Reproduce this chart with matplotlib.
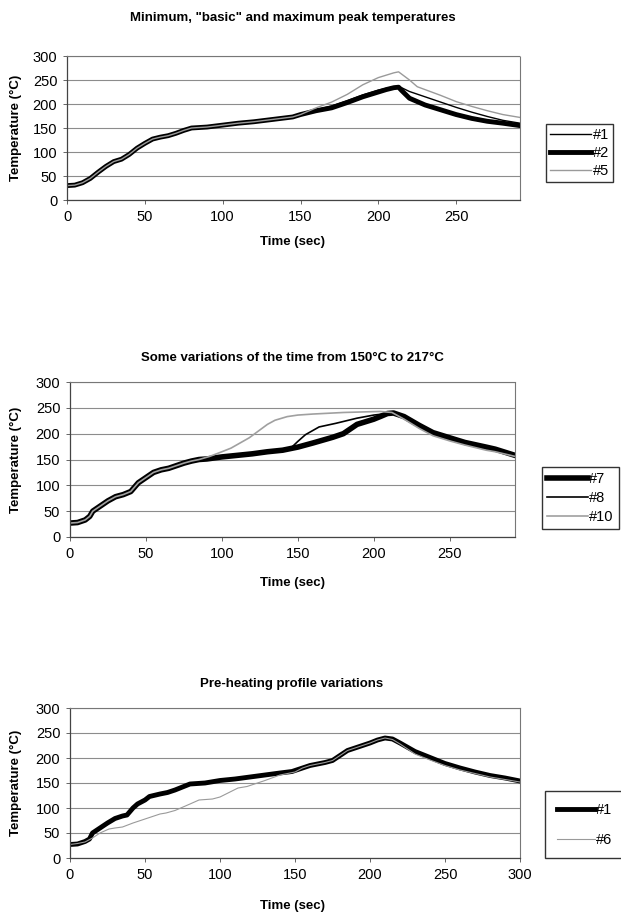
import matplotlib
matplotlib.use("Agg")
import matplotlib.pyplot as plt

plt.rcParams['font.family'] = ['Liberation Sans', 'DejaVu Sans']

# --- chart 1: Minimum, "basic" and maximum peak temperatures ---
t_base = [0, 5, 10, 15, 20, 25, 30, 35, 40, 45, 50, 55, 60, 65, 70, 75, 80, 90, 100, 110, 120, 130, 140, 145, 150]
T_base = [30, 31, 36, 45, 58, 70, 80, 85, 95, 108, 118, 127, 131, 134, 139, 145, 150, 152, 156, 160, 163, 167, 171, 173, 178]

t1_tail = [160, 170, 180, 190, 200, 210, 213, 220, 230, 240, 250, 260, 270, 280, 291]
T1_tail = [188, 196, 207, 219, 229, 236, 237, 226, 215, 204, 193, 183, 174, 166, 160]

t2_tail = [160, 170, 180, 190, 200, 205, 210, 213, 215, 220, 230, 240, 250, 260, 270, 280, 291]
T2_tail = [186, 192, 203, 215, 225, 230, 234, 235, 228, 212, 198, 188, 178, 170, 164, 160, 155]

t5_tail = [160, 170, 180, 190, 200, 210, 213, 220, 225, 230, 240, 250, 260, 270, 280, 291]
T5_tail = [192, 204, 220, 240, 255, 265, 267, 250, 236, 230, 218, 205, 195, 186, 178, 172]

# --- chart 2: Some variations of the time from 150°C to 217°C ---
t_start = [0, 5, 10, 13, 15, 20, 25, 30, 35, 40, 45, 50, 55, 60, 65, 70, 75, 80, 85]
T_start = [27, 28, 33, 40, 50, 60, 70, 78, 82, 88, 105, 115, 125, 130, 133, 138, 143, 147, 150]

t7_tail = [90, 100, 110, 120, 130, 140, 145, 150, 160, 173, 180, 189, 200, 205, 209, 213, 220, 230, 239, 250, 260, 274, 280, 293]
T7_tail = [151, 155, 158, 161, 165, 168, 171, 174, 182, 193, 200, 218, 228, 234, 239, 240, 233, 216, 202, 192, 183, 174, 170, 158]

t8_tail = [90, 100, 110, 120, 130, 140, 145, 150, 155, 164, 175, 189, 200, 209, 213, 220, 230, 239, 250, 260, 274, 280, 293]
T8_tail = [151, 155, 158, 161, 165, 168, 171, 185, 198, 213, 220, 230, 236, 239, 240, 232, 214, 200, 190, 181, 172, 168, 157]

t10_tail = [92, 100, 106, 112, 118, 124, 130, 135, 143, 150, 160, 180, 204, 212, 220, 230, 239, 250, 260, 274, 280, 293]
T10_tail = [156, 165, 172, 182, 192, 205, 218, 226, 233, 236, 238, 241, 243, 241, 228, 210, 196, 186, 178, 168, 165, 156]

# --- chart 3: Pre-heating profile variations ---
t_p1 = [0, 5, 10, 13, 15, 20, 25, 30, 35, 38, 42, 45, 50, 53, 60, 65, 70, 75, 80, 90, 100, 110, 120, 130, 140, 148,
        155, 160, 170, 175, 180, 185, 190, 200, 205, 210, 215, 220, 230, 240, 250, 260, 270, 280, 290, 300]
T_p1 = [27, 28, 33, 38, 50, 60, 70, 79, 84, 86, 100, 108, 116, 123, 128, 131, 136, 142, 148, 150, 155, 158, 162, 166, 170, 173,
        180, 185, 191, 195, 205, 215, 220, 230, 236, 240, 238, 230, 213, 201, 189, 180, 172, 165, 160, 154]

t_p6 = [0, 5, 10, 15, 20, 26, 30, 35, 42, 50, 60, 64, 70, 80, 86, 95, 100, 112, 118, 125, 130, 140, 150,
        155, 160, 170, 175, 180, 185, 190, 200, 205, 210, 215, 220, 230, 240, 250, 260, 270, 280, 290, 300]
T_p6 = [27, 29, 32, 40, 50, 58, 60, 62, 70, 78, 88, 90, 95, 108, 116, 118, 122, 140, 143, 150, 155, 166, 172,
        180, 185, 191, 195, 205, 215, 220, 230, 236, 240, 237, 228, 208, 196, 185, 176, 169, 162, 157, 152]

W, H = 621, 915
fig = plt.figure(figsize=(W / 100, H / 100), dpi=100)


def px_axes(left, top, right, bottom):
    return fig.add_axes([left / W, 1 - bottom / H, (right - left) / W, (bottom - top) / H])


def style(ax, xmax):
    ax.set_ylim(0, 300)
    ax.set_xticks(range(0, 301, 50))
    ax.set_yticks(range(0, 301, 50))
    ax.set_xlim(0, xmax)
    ax.grid(axis='y', color='#8c8c8c', lw=0.8)
    ax.set_axisbelow(True)
    for s in ['top', 'right']:
        ax.spines[s].set_color('#777777')
        ax.spines[s].set_linestyle((0, (1, 1)))
        ax.spines[s].set_linewidth(0.8)
    for s in ['left', 'bottom']:
        ax.spines[s].set_color('#444444')
        ax.spines[s].set_linewidth(0.9)
    ax.tick_params(direction='out', length=3, width=0.7, color='#666666', labelsize=10.5, pad=4)


def texts(title, title_y, xlabel_y, ax_center):
    fig.text(ax_center / W, 1 - title_y / H, title, ha='center', va='center', fontsize=9.5, fontweight='bold')
    fig.text(ax_center / W, 1 - xlabel_y / H, 'Time (sec)', ha='center', va='center', fontsize=9.5, fontweight='bold')


def legend(ax, x, y, spacing, pad, hl):
    fig.legend(handles=ax.get_lines(), loc='upper left', bbox_to_anchor=(x / W, 1 - y / H),
               borderaxespad=0, fontsize=10.5, handlelength=hl, handletextpad=0.1,
               labelspacing=spacing, borderpad=pad, frameon=True, fancybox=False,
               edgecolor='#333333', framealpha=1)


# chart 1
ax1 = px_axes(67, 56, 520, 200)
style(ax1, 291)
ax1.plot(t_base + t1_tail, T_base + T1_tail, color='black', lw=1.0, label='#1')
ax1.plot(t_base + t2_tail, T_base + T2_tail, color='black', lw=3.5, label='#2')
ax1.plot(t_base + t5_tail, T_base + T5_tail, color='#9a9a9a', lw=1.0, label='#5')
ax1.set_ylabel('Temperature (°C)', fontsize=9.5, fontweight='bold')
ax1.yaxis.set_label_coords(-45 / 453, 0.5)
texts('Minimum, "basic" and maximum peak temperatures', 18, 242, 293)
legend(ax1, 546, 124, 0.25, 0.3, 2.8)

# chart 2
ax2 = px_axes(70, 382, 515, 537)
style(ax2, 293)
ax2.plot(t_start + t7_tail, T_start + T7_tail, color='black', lw=4.0, label='#7')
ax2.plot(t_start + t8_tail, T_start + T8_tail, color='black', lw=1.2, label='#8')
ax2.plot(t_start + t10_tail, T_start + T10_tail, color='#a0a0a0', lw=1.2, label='#10')
ax2.set_ylabel('Temperature (°C)', fontsize=9.5, fontweight='bold')
ax2.yaxis.set_label_coords(-48 / 445, 0.5)
texts('Some variations of the time from 150°C to 217°C', 358, 583, 292)
legend(ax2, 542, 467, 0.35, 0.35, 2.8)

# chart 3
ax3 = px_axes(70, 708, 520, 858)
style(ax3, 300)
ax3.plot(t_p1, T_p1, color='black', lw=3.5, label='#1')
ax3.plot(t_p6, T_p6, color='#9a9a9a', lw=0.8, label='#6')
ax3.set_ylabel('Temperature (°C)', fontsize=9.5, fontweight='bold')
ax3.yaxis.set_label_coords(-48 / 450, 0.5)
texts('Pre-heating profile variations', 684, 906, 292)
legend(ax3, 545, 791, 1.1, 0.8, 2.6)

fig.savefig('out.png', dpi=100)
